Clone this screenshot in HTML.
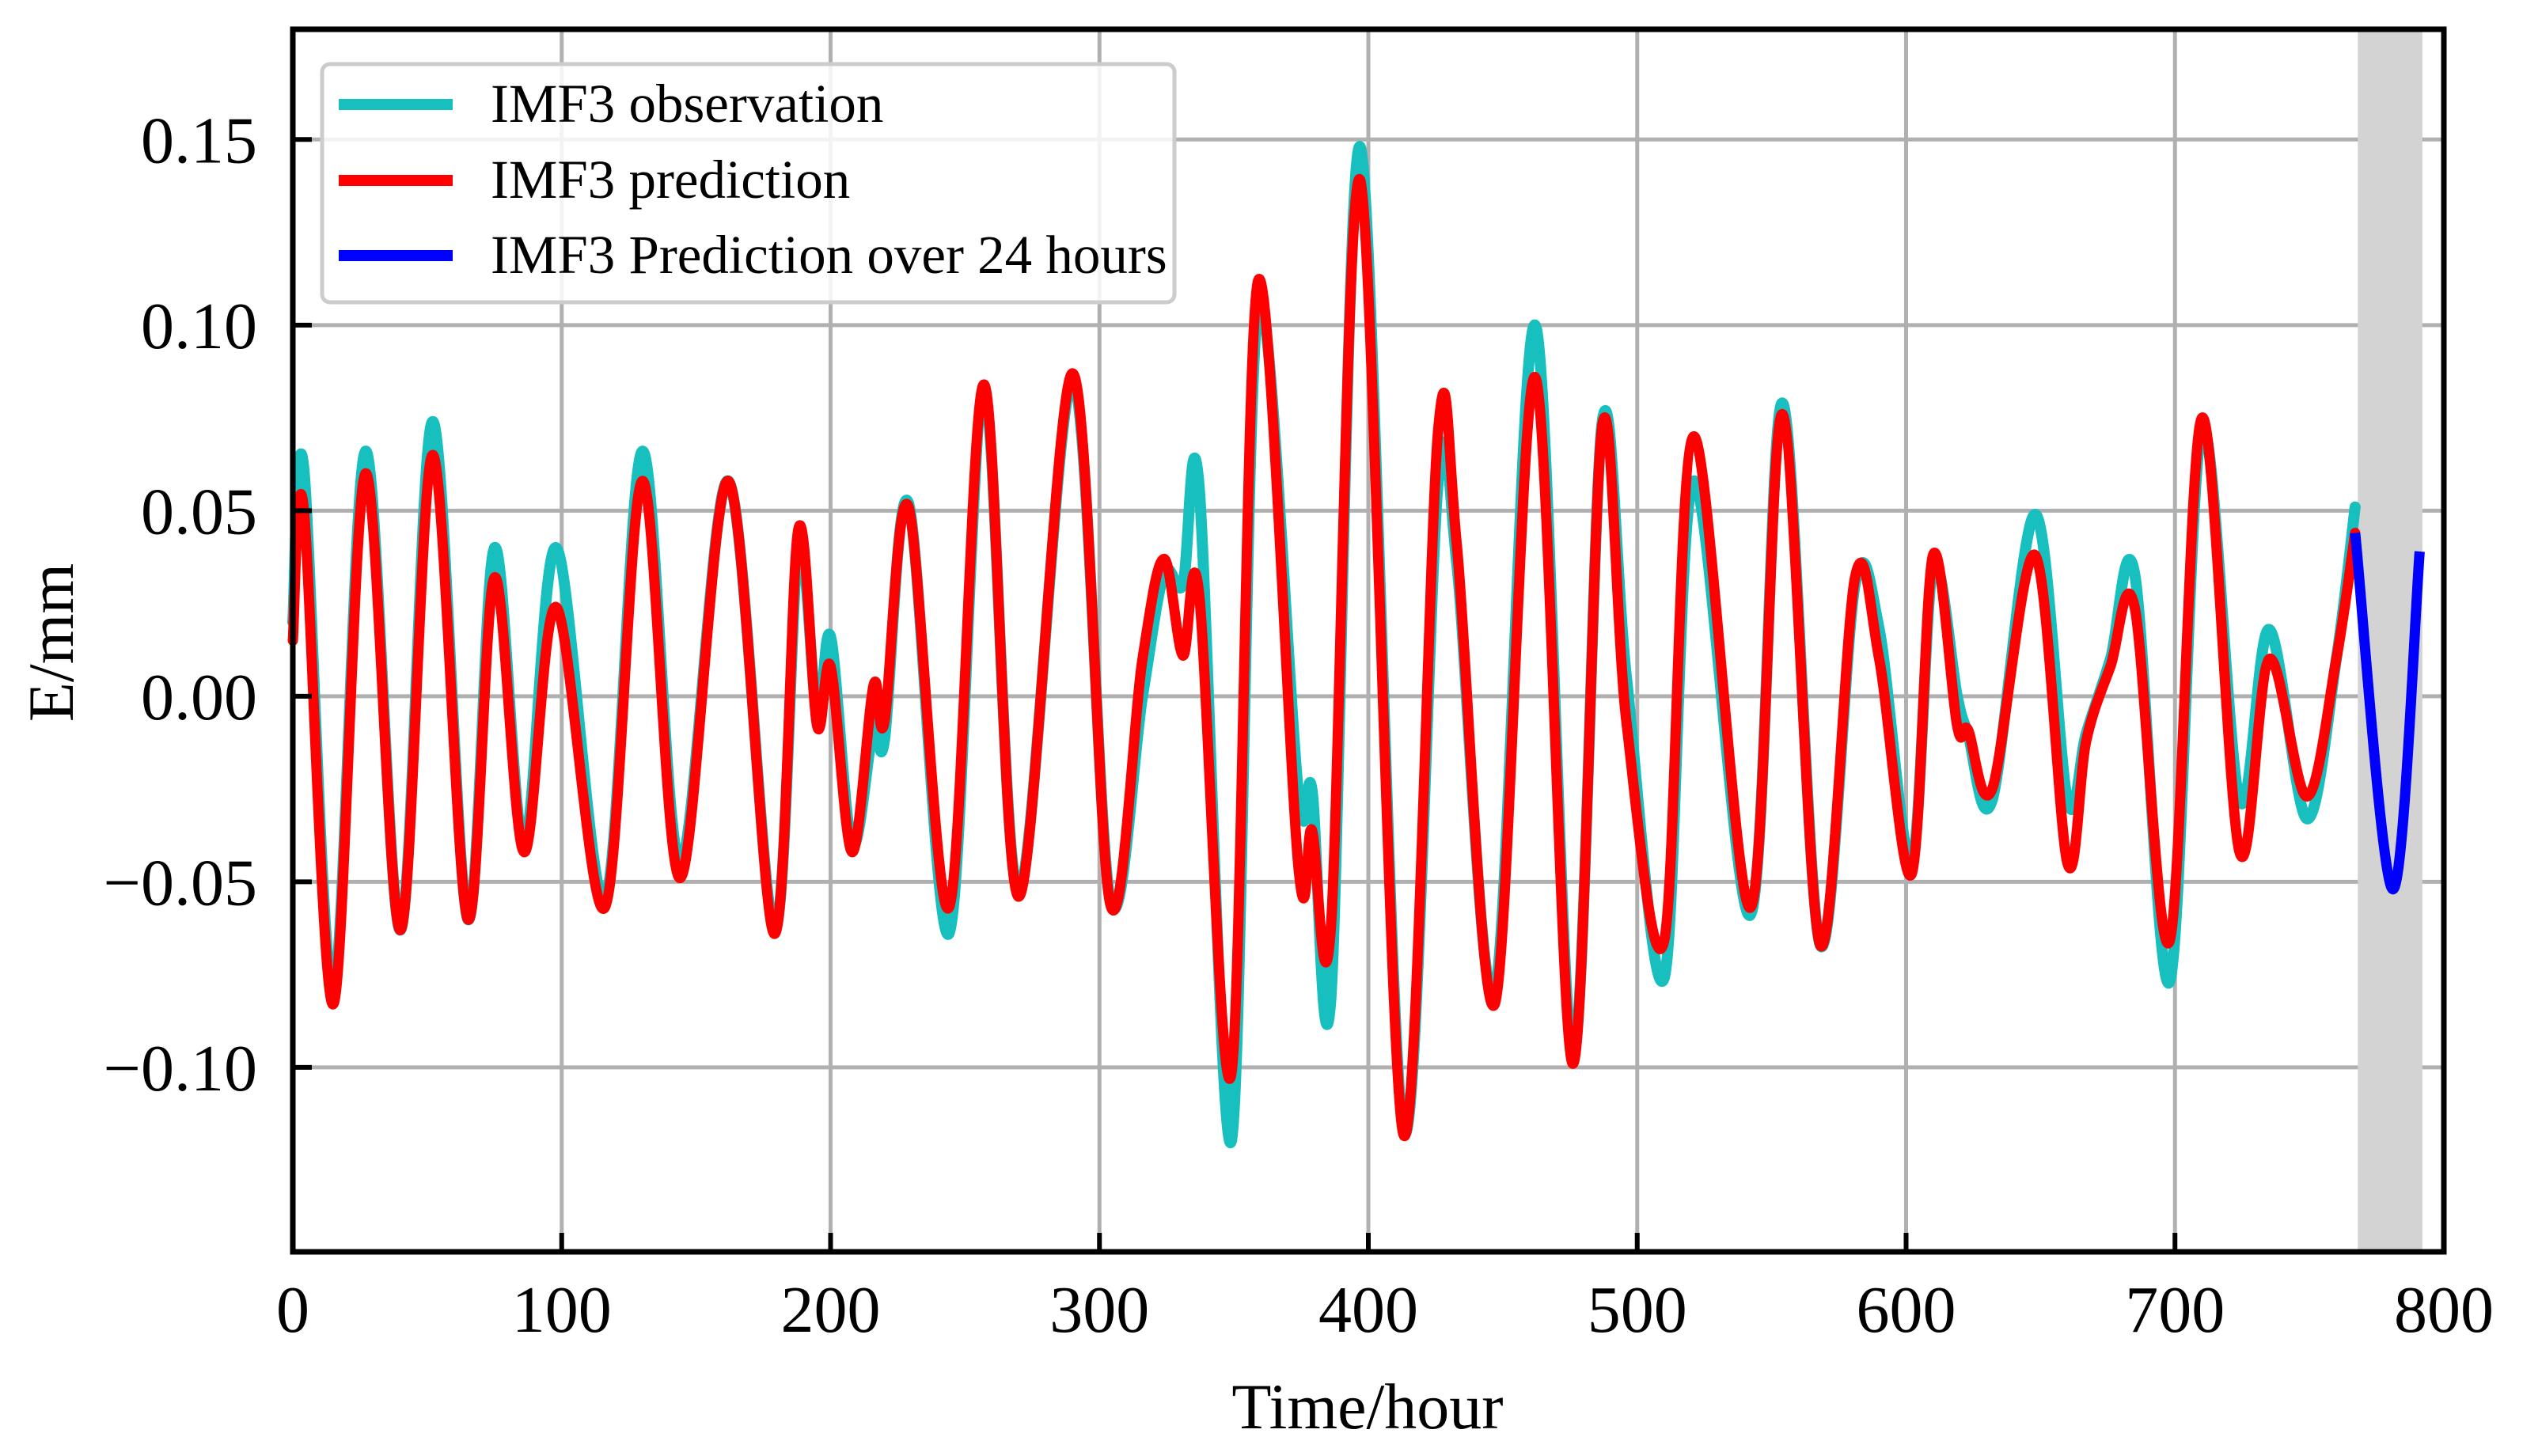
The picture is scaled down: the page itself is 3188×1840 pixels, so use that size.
<!DOCTYPE html>
<html><head><meta charset="utf-8"><style>
html,body{margin:0;padding:0;background:#fff;}
svg{display:block;font-family:"Liberation Serif",serif;}
</style></head><body>
<svg id="chart" width="3188" height="1840" viewBox="0 0 3188 1840" xmlns="http://www.w3.org/2000/svg">
<g id="grid"></g>
<rect id="band" fill="#d3d3d3"/>
<g id="series"></g>
<g id="axes"></g>
<text x="0" y="0" font-size="82" text-anchor="middle" transform="translate(92,812) rotate(-90)">E/mm</text>
<text x="1728" y="1805" font-size="82" text-anchor="middle">Time/hour</text>
<g>
<rect x="407" y="81" width="1077" height="301" rx="10" fill="#fff" fill-opacity="0.85" stroke="#cccccc" stroke-width="5"/>
<line x1="428" y1="132" x2="572" y2="132" stroke="#17bfbf" stroke-width="14"/>
<text x="620" y="154" font-size="69">IMF3 observation</text>
<line x1="428" y1="228" x2="572" y2="228" stroke="#ff0000" stroke-width="14"/>
<text x="620" y="250" font-size="69">IMF3 prediction</text>
<line x1="428" y1="323" x2="572" y2="323" stroke="#0000ff" stroke-width="14"/>
<text x="620" y="345" font-size="69">IMF3 Prediction over 24 hours</text>
</g>
</svg>
<script>
const times=[0,4,15,27,40,52,65,75,86,98,116,130,144,162,179,188,195,200,208,216,220,229,244,257,270,290,304,316,324,331,337,349,359,374,379,386,397,413,426,433,447,462,476,487,496,510,521,542,554,568,581,590,602,610,619,623,632,648,660,667,676,685,698,710,724,735,749,760,767];
const prediction=[0.015,0.051,-0.083,0.060,-0.063,0.065,-0.060,0.032,-0.042,0.024,-0.057,0.058,-0.049,0.058,-0.064,0.045,-0.008,0.008,-0.042,0.003,-0.007,0.051,-0.057,0.084,-0.054,0.087,-0.056,0.010,0.037,0.011,0.028,-0.102,0.112,-0.046,-0.036,-0.063,0.139,-0.118,0.072,0.040,-0.083,0.086,-0.099,0.073,-0.007,-0.066,0.070,-0.057,0.076,-0.067,0.032,0.010,-0.048,0.038,-0.008,-0.009,-0.025,0.038,-0.045,-0.012,0.008,0.024,-0.066,0.075,-0.042,0.010,-0.027,0.010,0.044];
const observation=[0.020,0.062,-0.080,0.066,-0.063,0.074,-0.060,0.040,-0.040,0.040,-0.055,0.066,-0.045,0.058,-0.063,0.040,-0.005,0.016,-0.040,-0.008,-0.012,0.052,-0.064,0.082,-0.053,0.085,-0.055,0.000,0.033,0.030,0.057,-0.120,0.105,-0.026,-0.025,-0.082,0.148,-0.117,0.058,0.035,-0.080,0.100,-0.097,0.074,0.005,-0.076,0.058,-0.059,0.079,-0.067,0.030,0.018,-0.045,0.035,0.000,-0.010,-0.028,0.049,-0.028,-0.010,0.010,0.033,-0.077,0.072,-0.028,0.018,-0.033,0.010,0.051];
const futureTimes=[767,781,791];
const futureValues=[0.044,-0.052,0.039];
const bandRange=[768,792];
const xTicks=[0,100,200,300,400,500,600,700,800];
const yTicks=[-0.10,-0.05,0.00,0.05,0.10,0.15];
const yTickLabels=["\u22120.10","\u22120.05","0.00","0.05","0.10","0.15"];

const L=370,R=3088,T=37,B=1582;
const X=t=>L+(t-0)/(800-0)*(R-L);
const Y=v=>B-(v-(-0.1497))/(0.1797-(-0.1497))*(B-T);
const NS='http://www.w3.org/2000/svg';
function mk(tag,parent,attrs){const e=document.createElementNS(NS,tag);for(const k in attrs)e.setAttribute(k,attrs[k]);parent.appendChild(e);return e;}
const grid=document.getElementById('grid'),axes=document.getElementById('axes'),series=document.getElementById('series');
xTicks.forEach(t=>{
 const g=mk('line',grid,{x1:X(t),x2:X(t),y1:T,y2:B,stroke:'#b0b0b0','stroke-width':5});
 
 
 const tk=mk('line',axes,{x1:X(t),x2:X(t),y1:B,y2:B-24,stroke:'#000','stroke-width':6});
 
 
 const lb=mk('text',axes,{x:X(t),y:1683,'font-size':84,'text-anchor':'middle'});
 lb.textContent=t;
 
 
});
yTicks.forEach((v,i)=>{
 const g=mk('line',grid,{x1:L,x2:R,y1:Y(v),y2:Y(v),stroke:'#b0b0b0','stroke-width':5});
 
 
 const tk=mk('line',axes,{x1:L,x2:L+24,y1:Y(v),y2:Y(v),stroke:'#000','stroke-width':6});
 
 
 const lb=mk('text',axes,{x:325,y:Y(v)+29,'font-size':84,'text-anchor':'end'});
 lb.textContent=yTickLabels[i];
 
 
});
const band=document.getElementById('band');
band.setAttribute('x',X(bandRange[0]));band.setAttribute('y',T);
band.setAttribute('width',X(bandRange[1])-X(bandRange[0]));band.setAttribute('height',B-T);
function pathD(ts,vs){
 const p=ts.map((t,i)=>[X(t),Y(vs[i])]);
 let d='M'+p[0][0]+','+p[0][1];
 for(let i=0;i<p.length-1;i++){
  const p0=p[Math.max(0,i-1)],p1=p[i],p2=p[i+1],p3=p[Math.min(p.length-1,i+2)];
  const c1=[p1[0]+(p2[0]-p0[0])/6,p1[1]+(p2[1]-p0[1])/6];
  const c2=[p2[0]-(p3[0]-p1[0])/6,p2[1]-(p3[1]-p1[1])/6];
  d+=' C'+c1[0]+','+c1[1]+' '+c2[0]+','+c2[1]+' '+p2[0]+','+p2[1];
 }
 return d;
}
const obs=mk('path',series,{d:pathD(times,observation),fill:'none',stroke:'#17bfbf','stroke-width':14,'stroke-linejoin':'round','stroke-linecap':'round'});


const pred=mk('path',series,{d:pathD(times,prediction),fill:'none',stroke:'#ff0000','stroke-width':13,'stroke-linejoin':'round','stroke-linecap':'round'});


const fut=mk('path',series,{d:pathD(futureTimes,futureValues),fill:'none',stroke:'#0000ff','stroke-width':13,'stroke-linejoin':'round'});


const frame=mk('rect',axes,{x:L,y:T,width:R-L,height:B-T,fill:'none',stroke:'#000','stroke-width':7});


</script>
</body></html>
